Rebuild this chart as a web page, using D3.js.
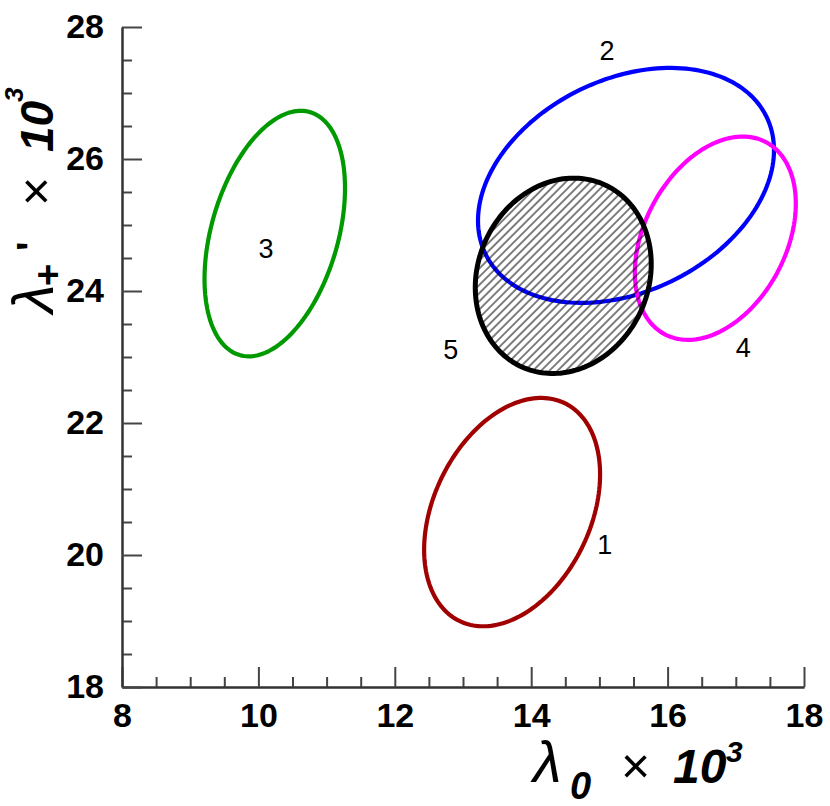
<!DOCTYPE html>
<html>
<head>
<meta charset="utf-8">
<script src="https://cdn.jsdelivr.net/npm/d3@7"></script>
<style>
  html, body { margin: 0; padding: 0; background: #fff; }
  svg { display: block; font-family: "Liberation Sans", Arial, Helvetica, sans-serif; }
</style>
</head>
<body>
<svg id="chart" width="830" height="806"></svg>
<script>
// ---- data (error ellipses: centre, sigma along x, sigma along y, correlation) ----
const ellipseIds = ["1", "2", "3", "4", "5"];
const centerX = [13.72, 15.39, 10.24, 16.70, 14.47];
const centerY = [20.65, 25.60, 24.87, 24.80, 24.23];
const sigmaX  = [1.29, 2.17, 1.03, 1.18, 1.29];
const sigmaY  = [1.73, 1.78, 1.86, 1.54, 1.48];
const rho     = [0.33, 0.30, 0.37, 0.34, 0.12];
// label anchor points (data units)
const labelX  = [15.08, 15.11, 10.11, 17.11, 12.82];
const labelY  = [20.17, 27.64, 24.65, 23.15, 23.11];
// axis ticks
const xMajorTicks = [8, 10, 12, 14, 16, 18];
const yMajorTicks = [18, 20, 22, 24, 26, 28];
const xMinorTicks = [8.5, 9, 9.5, 10.5, 11, 11.5, 12.5, 13, 13.5, 14.5, 15, 15.5, 16.5, 17, 17.5];
const yMinorTicks = [18.5, 19, 19.5, 20.5, 21, 21.5, 22.5, 23, 23.5, 24.5, 25, 25.5, 26.5, 27, 27.5];

// ---- styles ----
const strokeColors = ["#a00000", "#0000ff", "#009900", "#ff00ff", "#000000"];
const strokeWidths = [4.2, 4.2, 4.2, 4.2, 5];

const svg = d3.select("#chart");
const x = d3.scaleLinear().domain([8, 18]).range([122, 804]);
const y = d3.scaleLinear().domain([18, 28]).range([687, 27]);

// hatch pattern
const defs = svg.append("defs");
const pat = defs.append("pattern")
  .attr("id", "hatch").attr("patternUnits", "userSpaceOnUse")
  .attr("width", 5.8).attr("height", 5.8)
  .attr("patternTransform", "rotate(45)");
pat.append("line").attr("x1", 1).attr("y1", 0).attr("x2", 1).attr("y2", 5.8)
  .attr("stroke", "#000").attr("stroke-width", 1.0);

// ---- axes ----
function styleAxis(g) {
  g.selectAll(".domain").attr("stroke", "#333").attr("stroke-width", 2);
  g.selectAll(".tick line").attr("stroke", "#444").attr("stroke-width", 2);
}
const xAxisG = svg.append("g").attr("transform", `translate(0,${y(18)})`);
xAxisG.call(d3.axisBottom(x).tickValues(xMinorTicks).tickSizeInner(-10).tickSizeOuter(0).tickFormat(""));
xAxisG.selectAll(".tick text").remove();
const xAxisMaj = svg.append("g").attr("transform", `translate(0,${y(18)})`)
  .call(d3.axisBottom(x).tickValues(xMajorTicks).tickSizeInner(-20).tickSizeOuter(0).tickPadding(16).tickFormat(d3.format("d")));
styleAxis(xAxisG); styleAxis(xAxisMaj);

const yAxisG = svg.append("g").attr("transform", `translate(${x(8)},0)`);
yAxisG.call(d3.axisLeft(y).tickValues(yMinorTicks).tickSizeInner(-10).tickSizeOuter(0).tickFormat(""));
yAxisG.selectAll(".tick text").remove();
const yAxisMaj = svg.append("g").attr("transform", `translate(${x(8)},0)`)
  .call(d3.axisLeft(y).tickValues(yMajorTicks).tickSizeInner(-20).tickSizeOuter(0).tickPadding(18).tickFormat(d3.format("d")));
styleAxis(yAxisG); styleAxis(yAxisMaj);

svg.selectAll(".tick text")
  .attr("font-family", "'Liberation Sans', Arial, sans-serif")
  .attr("font-size", 34).attr("font-weight", "bold").attr("fill", "#000");

// ---- ellipses ----
const thetas = d3.range(0, 361, 2).map(d => d * Math.PI / 180);
function contour(i) {
  const s = Math.sqrt(1 - rho[i] * rho[i]);
  return thetas.map(t => [
    centerX[i] + sigmaX[i] * Math.cos(t),
    centerY[i] + sigmaY[i] * (rho[i] * Math.cos(t) + s * Math.sin(t))
  ]);
}
const line = d3.line().x(d => x(d[0])).y(d => y(d[1])).curve(d3.curveLinearClosed);

const order = [0, 1, 2, 3];
svg.append("g").selectAll("path").data(order).join("path")
  .attr("d", i => line(contour(i)))
  .attr("fill", "none")
  .attr("stroke", i => strokeColors[i])
  .attr("stroke-width", i => strokeWidths[i]);

// hatched ellipse 5
svg.append("path").attr("d", line(contour(4))).attr("fill", "url(#hatch)").attr("stroke", "none");
svg.append("path").attr("d", line(contour(4)))
  .attr("fill", "none").attr("stroke", strokeColors[4]).attr("stroke-width", strokeWidths[4]);

// labels
svg.append("g").selectAll("text").data(ellipseIds).join("text")
  .attr("x", (d, i) => x(labelX[i]))
  .attr("y", (d, i) => y(labelY[i]))
  .attr("dy", "0.36em")
  .attr("text-anchor", "middle")
  .attr("font-size", 27)
  .attr("fill", "#000")
  .text(d => d);

// ---- axis titles ----
const xt = svg.append("text").attr("fill", "#000");
xt.append("tspan").attr("x", 533).attr("y", 782).attr("font-size", 58).attr("font-style", "italic").text("λ");
xt.append("tspan").attr("x", 570).attr("y", 799).attr("font-size", 38).attr("font-style", "italic").attr("font-weight", "bold").text("0");
xt.append("tspan").attr("x", 621).attr("y", 783).attr("font-size", 50).text("×");
xt.append("tspan").attr("x", 673).attr("y", 783).attr("font-size", 48).attr("font-style", "italic").attr("font-weight", "bold").text("10");
xt.append("tspan").attr("x", 726).attr("y", 762).attr("font-size", 30).attr("font-style", "italic").attr("font-weight", "bold").text("3");

const yt = svg.append("text").attr("fill", "#000").attr("transform", "translate(53,313) rotate(-90)");
yt.append("tspan").attr("x", 0).attr("y", 0).attr("font-size", 58).attr("font-style", "italic").text("λ");
yt.append("tspan").attr("x", 27).attr("y", 8).attr("font-size", 38).attr("font-weight", "bold").text("+");
yt.append("tspan").attr("x", 62).attr("y", -8).attr("font-size", 40).attr("font-weight", "bold").text("'");
yt.append("tspan").attr("x", 107).attr("y", 0).attr("font-size", 50).text("×");
yt.append("tspan").attr("x", 161).attr("y", 0).attr("font-size", 46).attr("font-style", "italic").attr("font-weight", "bold").text("10");
yt.append("tspan").attr("x", 211).attr("y", -30).attr("font-size", 26).attr("font-style", "italic").attr("font-weight", "bold").text("3");
</script>
</body>
</html>
